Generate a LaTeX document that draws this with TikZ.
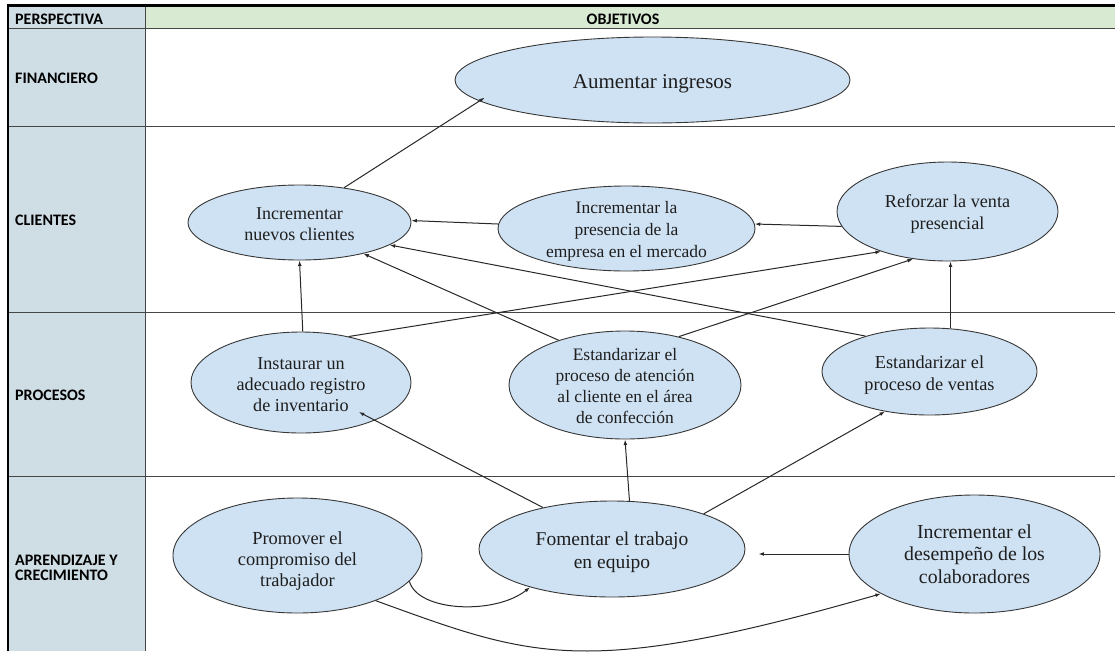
\documentclass[tikz,border=0pt]{standalone}
\usepackage{fontspec}
\setmainfont{Liberation Serif}
\newfontfamily\calib{Carlito}
\usetikzlibrary{arrows.meta,calc,shapes.geometric}
\definecolor{colfill}{RGB}{207,221,228}
\definecolor{hdrfill}{RGB}{217,234,211}
\definecolor{ellfill}{RGB}{207,226,243}
\definecolor{ellline}{RGB}{55,55,55}
\definecolor{gridcol}{RGB}{70,70,70}
\definecolor{arrcol}{RGB}{40,40,40}
\definecolor{txtcol}{RGB}{30,30,30}
\begin{document}
\begin{tikzpicture}[x=1pt,y=-1pt,
  obj/.style={ellipse, draw=ellline, line width=0.9pt, fill=ellfill, inner sep=0pt},
  txt/.style={align=center, inner sep=0pt, text=txtcol},
  lbl/.style={anchor=base west, inner sep=0pt, font=\calib\bfseries\fontsize{16}{15.7}\selectfont, text=black},
  arr/.style={draw=arrcol, line width=1pt, -{Latex[length=5.5pt,width=3.8pt]}},
  gridline/.style={draw=gridcol, line width=1pt}]

\useasboundingbox (0,0) rectangle (1115,651);
\fill[white] (0,0) rectangle (1115,651);
% table
\fill[colfill] (8,5) rectangle (145,651);
\fill[hdrfill] (145,5) rectangle (1115,28);
\draw[gridline] (8,28) -- (1115,28);
\draw[gridline] (8,126) -- (1115,126);
\draw[gridline] (8,312) -- (1115,312);
\draw[gridline] (8,476) -- (1115,476);
\draw[gridline] (145,5) -- (145,651);
\draw[black, line width=2.8pt] (8,651) -- (8,5.6) -- (1115,5.6);

% labels
\node[lbl] (hp) at (15,24) {PERSPECTIVA};
\node[lbl, anchor=base] (ho) at (623,24) {OBJETIVOS};
\node[lbl] (lf) at (15,83.3) {FINANCIERO};
\node[lbl] (lc) at (15,225) {CLIENTES};
\node[lbl] (lp) at (15,400) {PROCESOS};
\node[lbl, anchor=north west, align=left] (la) at (15,554.5) {APRENDIZAJE Y\\CRECIMIENTO};

% objectives
\node[obj, minimum width=395pt, minimum height=86pt] (ing) at (652.5,80) {};
\node[obj, minimum width=223pt, minimum height=75pt] (nuevos) at (299.5,222.5) {};
\node[obj, minimum width=257pt, minimum height=85pt] (pres) at (626.5,228.5) {};
\node[obj, minimum width=221pt, minimum height=99pt] (ref) at (947.5,211.5) {};
\node[obj, minimum width=220pt, minimum height=101pt] (inst) at (301,382.5) {};
\node[obj, minimum width=232pt, minimum height=108pt] (aten) at (625,385) {};
\node[obj, minimum width=215pt, minimum height=87pt] (ven) at (929.5,371.5) {};
\node[obj, minimum width=249pt, minimum height=115pt] (prom) at (297.5,555.5) {};
\node[obj, minimum width=266pt, minimum height=96pt] (fom) at (612,549) {};
\node[obj, minimum width=251pt, minimum height=118pt] (des) at (974.5,554) {};

\node[txt, font=\fontsize{21}{24}\selectfont] (ing-t) at (652.5,84) {Aumentar ingresos};
\node[txt, font=\fontsize{18}{21.5}\selectfont] (nuevos-t) at (299.5,224.2) {Incrementar\\nuevos clientes};
\node[txt, font=\fontsize{17.5}{21.7}\selectfont] (pres-t) at (626.5,231.4) {Incrementar la\\presencia de la\\empresa en el mercado};
\node[txt, font=\fontsize{18.2}{22}\selectfont] (ref-t) at (947.5,213.8) {Reforzar la venta\\presencial};
\node[txt, font=\fontsize{18.2}{21}\selectfont] (inst-t) at (301,385) {Instaurar un\\adecuado registro\\de inventario};
\node[txt, font=\fontsize{17.5}{21.1}\selectfont] (aten-t) at (625,385.7) {Estandarizar el\\proceso de atención\\al cliente en el área\\de confección};
\node[txt, font=\fontsize{18.3}{22}\selectfont] (ven-t) at (929.5,374.8) {Estandarizar el\\proceso de ventas};
\node[txt, font=\fontsize{18.4}{21}\selectfont] (prom-t) at (297.5,560.7) {Promover el\\compromiso del\\trabajador};
\node[txt, font=\fontsize{19.5}{23}\selectfont] (fom-t) at (612,552) {Fomentar el trabajo\\en equipo};
\node[txt, font=\fontsize{19.8}{22.5}\selectfont] (des-t) at (974.5,554) {Incrementar el\\desempeño de los\\colaboradores};

% connectors
\draw[arr] (nuevos.38) -- ($(ing.center)!0.94!(ing.186)$);
\draw[arr] (pres.178) -- (nuevos.1);
\draw[arr] (ref.188) -- (pres.2);
\draw[arr] (inst.88) -- (nuevos.270);
\draw[arr] (inst.44) -- (ref.211);
\draw[arr] (aten.146) -- (nuevos.-26);
\draw[arr] (aten.42) -- (ref.234);
\draw[arr] (ven.151) -- (nuevos.-14);
\draw[arr] (ven.64) -- (ven.64 |- ref.south);
\draw[arr] (fom.149) -- ($(inst.center)!0.78!(inst.-27)$);
\draw[arr] (fom.70) -- (aten.south);
\draw[arr] (fom.21) -- (ven.222);
\draw[arr, shorten >=13pt] (des.west) -- (fom.east |- des.west);
\draw[arr] (prom.-13) .. controls (418,612) and (495,615) .. (fom.205);
\draw[arr] (prom.-30) .. controls (532.5,657.5) and (582.7,679.4) .. (des.203);
\end{tikzpicture}
\end{document}
